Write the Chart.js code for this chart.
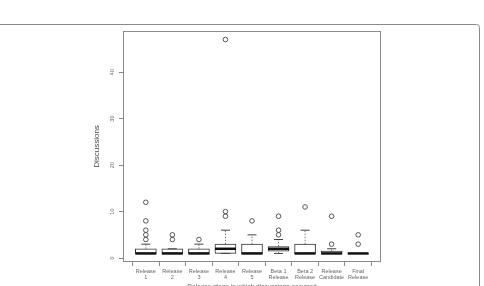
<!DOCTYPE html>
<html>
<head>
<meta charset="utf-8">
<script src="https://cdn.jsdelivr.net/npm/chart.js@4/dist/chart.umd.min.js"></script>
<style>
  html, body { margin: 0; padding: 0; background: #fff; }
  #wrap { width: 484px; height: 286px; }
</style>
</head>
<body>
<div id="wrap"><canvas id="chart" width="484" height="286"></canvas></div>
<script>
// --- DATA ---
const categories = [
  ['Release', '1'], ['Release', '2'], ['Release', '3'], ['Release', '4'], ['Release', '5'],
  ['Beta 1', 'Release'], ['Beta 2', 'Release'], ['Release', 'Candidate'], ['Final', 'Release']
];
const whiskerLow  = [1, 1, 1, 1, 1, 1, 1, 1, 1];
const quartile1   = [1, 1, 1, 1, 1, 1.5, 1, 1, 1];
const medians     = [1, 1, 1, 2, 1, 2, 1, 1, 1];
const quartile3   = [2, 2, 2, 3, 3, 2.5, 3, 1.5, 1];
const whiskerHigh = [3, 2, 3, 6, 5, 4, 6, 2, 1];
const outliers    = [
  [4, 5, 6, 8, 12],
  [4, 5],
  [4],
  [9, 10, 47],
  [8],
  [5, 6, 9],
  [11],
  [3, 9],
  [3, 5]
];
const yTicks = [0, 10, 20, 30, 40];

// --- helpers: turn the arrays into {x, y} points ---
const pos = (i) => i + 1;
const boxData = categories.map((_, i) => ({ x: pos(i), y: [quartile1[i], quartile3[i]] }));
const medianData = medians.map((v, i) => ({ x: pos(i), y: v }));
const capData = [
  ...whiskerHigh.map((v, i) => ({ x: pos(i), y: v })),
  ...whiskerLow.map((v, i) => ({ x: pos(i), y: v }))
];
// vertical dashed segments, broken by y:null gaps
const whiskerData = [];
categories.forEach((_, i) => {
  whiskerData.push({ x: pos(i), y: quartile3[i] }, { x: pos(i), y: whiskerHigh[i] }, { x: pos(i), y: null });
  whiskerData.push({ x: pos(i), y: whiskerLow[i] }, { x: pos(i), y: quartile1[i] }, { x: pos(i), y: null });
});
const outlierData = [];
outliers.forEach((list, i) => list.forEach(v => outlierData.push({ x: pos(i), y: v })));

// --- frame + plot box ---
const framePlugin = {
  id: 'frame',
  beforeDraw(chart) {
    const c = chart.ctx;
    c.save();
    c.fillStyle = '#fff';
    c.fillRect(0, 0, chart.width, chart.height);
    c.strokeStyle = '#8a8a8a';
    c.lineWidth = 1;
    c.beginPath();
    c.moveTo(0, 24.5);
    c.lineTo(476, 24.5);
    c.arcTo(479.5, 24.5, 479.5, 28, 3);
    c.lineTo(479.5, 286);
    c.stroke();
    c.restore();
  },
  afterDatasetsDraw(chart) {
    const { left, top, right, bottom } = chart.chartArea;
    const c = chart.ctx;
    c.save();
    c.strokeStyle = '#8c8c8c';
    c.lineWidth = 1;
    c.strokeRect(Math.round(left) + 0.5, Math.round(top) + 0.5, Math.round(right - left) - 1, Math.round(bottom - top) - 1);
    c.restore();
  }
};

const FONT = "'Liberation Sans', Arial, sans-serif";

new Chart(document.getElementById('chart'), {
  type: 'bar',
  data: {
    datasets: [
      {
        type: 'scatter', label: 'median', data: medianData, order: 0,
        pointStyle: 'line', pointRadius: 10.5, pointHoverRadius: 10.5,
        borderColor: '#111', borderWidth: 2.5
      },
      {
        type: 'scatter', label: 'caps', data: capData, order: 1,
        pointStyle: 'line', pointRadius: 4.5, pointHoverRadius: 4.5,
        borderColor: '#444', borderWidth: 1
      },
      {
        type: 'scatter', label: 'outliers', data: outlierData, order: 2,
        pointStyle: 'circle', pointRadius: 2.3, pointHoverRadius: 2.3,
        borderColor: '#444', backgroundColor: 'rgba(0,0,0,0)', borderWidth: 0.9
      },
      {
        type: 'bar', label: 'box', data: boxData, order: 3,
        backgroundColor: '#fff', borderColor: '#333', borderWidth: 1,
        borderSkipped: false, barThickness: 21
      },
      {
        type: 'line', label: 'whiskers', data: whiskerData, order: 4,
        borderColor: '#777', borderWidth: 1, borderDash: [1.5, 1.5],
        pointRadius: 0, spanGaps: false
      }
    ]
  },
  plugins: [framePlugin],
  options: {
    responsive: false,
    animation: false,
    events: [],
    layout: { padding: { left: 88, top: 31, right: 103, bottom: 0 } },
    plugins: { legend: { display: false }, tooltip: { enabled: false } },
    scales: {
      x: {
        type: 'linear', min: 0.14, max: 9.86, offset: false,
        afterBuildTicks: (s) => { s.ticks = categories.map((_, i) => ({ value: pos(i) })); },
        afterFit: (s) => { s.height = 24; },
        ticks: {
          callback: (v) => categories[v - 1],
          font: { family: FONT, size: 5.5 }, color: '#666',
          padding: 2, maxRotation: 0, minRotation: 0, autoSkip: false
        },
        grid: { drawOnChartArea: false, drawTicks: true, tickLength: 4, color: '#888' },
        border: { display: false },
        title: {
          display: true, text: 'Release stage in which discussions occurred',
          font: { family: FONT, size: 6.5 }, color: '#666',
          padding: { top: 0, bottom: -5 }
        }
      },
      y: {
        type: 'linear', min: -0.84, max: 48.84,
        afterBuildTicks: (s) => { s.ticks = yTicks.map(v => ({ value: v })); },
        afterFit: (s) => { s.width = 35; },
        ticks: {
          font: { family: FONT, size: 5.5 }, color: '#666',
          minRotation: 90, maxRotation: 90, crossAlign: 'center', padding: 3
        },
        grid: { drawOnChartArea: false, drawTicks: true, tickLength: 4, color: '#888' },
        border: { display: false },
        title: {
          display: true, text: 'Discussions',
          font: { family: FONT, size: 8 }, color: '#444',
          padding: { top: 4, bottom: 0 }
        }
      }
    }
  }
});
</script>
</body>
</html>
